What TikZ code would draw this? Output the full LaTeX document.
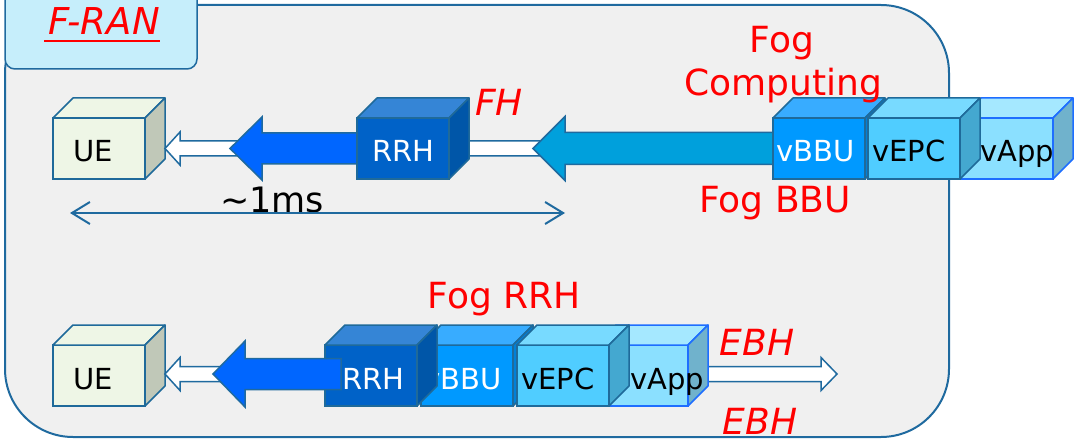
\documentclass[tikz,border=0pt]{standalone}
\usepackage{fontspec}
\setmainfont{DejaVu Sans}
\usetikzlibrary{calc,arrows.meta}

% frame and tab
\definecolor{frameF}{HTML}{F0F0F0}
\definecolor{frameB}{HTML}{1F6A9F}
\definecolor{tabF}{HTML}{C6EEFB}
% arrows
\definecolor{blueA}{HTML}{0066FF}
\definecolor{cyanA}{HTML}{00A0DC}
% cube palettes: F front, T top, S side, B border, X text
\definecolor{ueF}{HTML}{EEF6E6}\definecolor{ueT}{HTML}{EEF6E6}\definecolor{ueS}{HTML}{C0C8B8}
\definecolor{ueB}{HTML}{1F6A9A}\definecolor{ueX}{HTML}{000000}
\definecolor{rrhF}{HTML}{0062C8}\definecolor{rrhT}{HTML}{3585D6}\definecolor{rrhS}{HTML}{0056A8}
\definecolor{rrhB}{HTML}{1F6A9A}\definecolor{rrhX}{HTML}{FFFFFF}
\definecolor{bbuF}{HTML}{0099FF}\definecolor{bbuT}{HTML}{38ACFF}\definecolor{bbuS}{HTML}{0080D8}
\definecolor{bbuB}{HTML}{1F6A9A}\definecolor{bbuX}{HTML}{FFFFFF}
\definecolor{epcF}{HTML}{50CDFF}\definecolor{epcT}{HTML}{78DAFF}\definecolor{epcS}{HTML}{44A8D0}
\definecolor{epcB}{HTML}{1F6A9A}\definecolor{epcX}{HTML}{000000}
\definecolor{appF}{HTML}{8BE0FF}\definecolor{appT}{HTML}{A5E8FF}\definecolor{appS}{HTML}{70B2CC}
\definecolor{appB}{HTML}{1E6EFF}\definecolor{appX}{HTML}{000000}

\tikzset{
  cubefront/.style={rectangle, inner sep=0pt, outer sep=0pt, line width=1.5pt,
                    minimum width=92pt, minimum height=61pt, anchor=north west},
  boxlbl/.style={inner sep=0pt, anchor=base west, font=\fontsize{29}{32}\selectfont},
  redlbl/.style={inner sep=0pt, anchor=base, text=red, font=\fontsize{36}{40}\selectfont},
  redit/.style={redlbl, font=\fontsize{36}{40}\selectfont\itshape},
  hollow/.style={fill=white, draw=frameB, line width=1.5pt, line join=miter},
  solidblue/.style={fill=blueA, draw=frameB, line width=1.5pt},
  solidcyan/.style={fill=cyanA, draw=frameB, line width=1.5pt},
}

% 3-D box: name, x, y (front top-left), palette, label, label x offset
\newcommand\cubebox[6]{%
  \node[cubefront, fill=#4F, draw=#4B] (#1) at (#2,#3) {};
  \filldraw[fill=#4T, draw=#4B, line width=1.5pt, line join=round]
    (#1.north west) -- ++(20,-20) -- ++(92,0) -- (#1.north east) -- cycle;
  \filldraw[fill=#4S, draw=#4B, line width=1.5pt, line join=round]
    (#1.north east) -- ++(20,-20) -- ++(0,61) -- (#1.south east) -- cycle;
  \node[boxlbl, text=#4X] (#1-l) at ([xshift=#6pt, yshift=17pt]#1.south west) {#5};
}

% block arrow: style, tip point, tail point, head length, head half width, shaft half width
\newcommand\blockarrow[6]{%
  \path[#1] let \p1=#2, \p2=#3 in
    (\x1,\y1) -- (\x1+#4pt,\y1+#5pt) -- (\x1+#4pt,\y1+#6pt) -- (\x2,\y1+#6pt)
    -- (\x2,\y1-#6pt) -- (\x1+#4pt,\y1-#6pt) -- (\x1+#4pt,\y1-#5pt) -- cycle;
}

\begin{document}
\begin{tikzpicture}[x=1pt, y=-1pt]
\useasboundingbox (0,0) rectangle (1077,441);

% F-RAN area
\draw[fill=frameF, draw=frameB, line width=2pt, rounded corners=68pt] (5,5) rectangle (949,437);
\draw[fill=tabF, draw=frameB, line width=1.5pt, rounded corners=10pt] (5,-14) rectangle (197,69);
\node[redit, font=\fontsize{37}{40}\selectfont\itshape] (fran) at (104,35) {F-RAN};
\draw[red, line width=2pt] ([xshift=-4pt, yshift=-6pt]fran.base west) -- ([yshift=-6pt]fran.base east);

% ---------- upper chain: UE <- RRH <- fog BBU ----------
\cubebox{ue1}{53}{118}{ue}{UE}{20}
\coordinate (fh-end) at (540,148.5);
\blockarrow{hollow}{($(ue1.east)+(20,0)$)}{(fh-end)}{15}{16.5}{7.5}
\blockarrow{solidblue}{($(ue1.east)+(85,0)$)}{(380,149)}{32}{31.5}{15.5}
\cubebox{rrh1}{357}{118}{rrh}{RRH}{15}
\blockarrow{solidcyan}{($(rrh1.east)+(84,0)$)}{(790,149)}{32}{32}{16}
\cubebox{bbu1}{773}{118}{bbu}{vBBU}{3}
\cubebox{app1}{961}{118}{app}{vApp}{19}
\cubebox{epc1}{868}{118}{epc}{vEPC}{4}

\node[redit] (fh) at (499,116) {FH};
\node[redlbl] (fog1) at (782,53) {Fog};
\node[redlbl] (fog2) at (783,96) {Computing};
\node[redlbl] (fogbbu) at (775,212) {Fog BBU};

% latency span
\coordinate (ms-l) at (70,213);
\coordinate (ms-r) at (565,213);
\node[inner sep=0pt, anchor=base, font=\fontsize{35}{38}\selectfont] (ms) at (272,212) {\textasciitilde1ms};
\draw[draw=frameB, line width=2pt, {Straight Barb[length=18pt, width=22pt]}-{Straight Barb[length=18pt, width=22pt]}] (ms-l) -- (ms-r);

% ---------- lower chain: fog RRH with local functions ----------
\cubebox{ue2}{53}{345}{ue}{UE}{20}
\blockarrow{hollow}{($(ue2.east)+(20,-1.5)$)}{(280,374)}{15}{16.5}{7.5}
\coordinate (ebh-tip) at (837,374);
\blockarrow{hollow}{(ebh-tip)}{(700,374)}{-16}{16.5}{7.5}
\cubebox{app2}{596}{345}{app}{vApp}{34}
\cubebox{bbu2}{421}{345}{bbu}{vBBU}{2}
\cubebox{epc2}{517}{345}{epc}{vEPC}{4}
\cubebox{rrh2}{325}{345}{rrh}{RRH}{17}
\blockarrow{solidblue}{($(ue2.east)+(68,-1.5)$)}{($(rrh2.west)+(16,0)$)}{32}{33}{15.5}

\node[redlbl] (fogrrh) at (504,308) {Fog RRH};
\node[redit] (ebh1) at (757,355) {EBH};
\node[redit] (ebh2) at (760,434) {EBH};
\end{tikzpicture}
\end{document}
